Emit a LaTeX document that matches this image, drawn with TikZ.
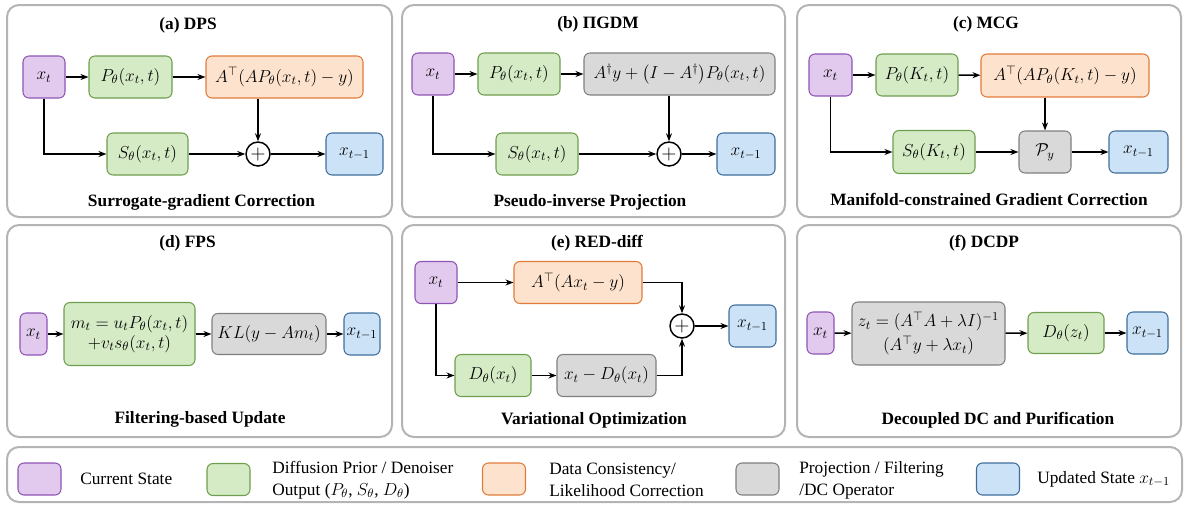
\RequirePackage{fix-cm}
\documentclass[tikz,border=0pt]{standalone}
\usepackage{amsmath}
\usepackage[no-math]{fontspec}
\setmainfont{Liberation Serif}
\usetikzlibrary{arrows.meta}
\definecolor{purF}{HTML}{E2CAEE}\definecolor{purD}{HTML}{8E55B5}
\definecolor{grnF}{HTML}{D4EBC6}\definecolor{grnD}{HTML}{6E9E4E}
\definecolor{orF}{HTML}{FDE3CD}\definecolor{orD}{HTML}{E07B39}
\definecolor{gyF}{HTML}{D9D9D9}\definecolor{gyD}{HTML}{7F7F7F}
\definecolor{blF}{HTML}{CCE2F7}\definecolor{blD}{HTML}{3F6E9C}
\definecolor{frameC}{HTML}{B4B4B4}
\tikzset{
  box/.style={draw, rounded corners=4.5pt, line width=0.8pt, minimum height=31.5pt, inner sep=1.5pt, align=center, font=\fontsize{13}{16}\selectfont},
  pur/.style={box, fill=purF, draw=purD},
  grn/.style={box, fill=grnF, draw=grnD},
  org/.style={box, fill=orF, draw=orD},
  gry/.style={box, fill=gyF, draw=gyD},
  blu/.style={box, fill=blF, draw=blD},
  arr/.style={-{Stealth[length=6pt,width=4.5pt]}, line width=1.1pt},
  sumnode/.style={circle, draw, line width=1.1pt, minimum size=18pt, inner sep=0pt, fill=white, font=\fontsize{15}{15}\selectfont},
  panel/.style={draw=frameC, line width=1.5pt, rounded corners=9pt},
  ttl/.style={font=\bfseries\fontsize{13}{15}\selectfont},
  leg/.style={font=\fontsize{13}{16.5}\selectfont, align=left, anchor=west, inner sep=0pt},
  swatch/.style={minimum width=32.25pt, minimum height=24pt, inner sep=0pt}
}
\begin{document}
\begin{tikzpicture}[x=0.75pt,y=-0.75pt]
\useasboundingbox (0,0) rectangle (1195,504);
% panels
\draw[panel] (7,5) rectangle (392,217);
\draw[panel] (402,5) rectangle (785,217);
\draw[panel] (797,5) rectangle (1181,217);
\draw[panel] (7,225) rectangle (392,437);
\draw[panel] (402,225) rectangle (785,437);
\draw[panel] (797,225) rectangle (1181,437);
\draw[panel] (7,447) rectangle (1182,502);

% (a) DPS
\node[ttl] (ta) at (188,25) {(a) DPS};
\node[ttl] (la) at (201.5,202) {Surrogate-gradient Correction};
\node[pur, minimum width=31.5pt] (a1) at (44,77) {$x_t$};
\node[grn, minimum width=62.25pt] (a2) at (130.5,77) {$P_\theta(x_t,t)$};
\node[org, minimum width=117.75pt] (a3) at (284.5,77) {$A^{\top}(AP_\theta(x_t,t)-y)$};
\node[grn, minimum width=60.75pt] (a4) at (147.5,154) {$S_\theta(x_t,t)$};
\node[sumnode] (a5) at (258,154) {$+$};
\node[blu, minimum width=42.75pt] (a6) at (354.5,154) {$x_{t-1}$};
\draw[arr] (a1) -- (a2);
\draw[arr] (a2) -- (a3);
\draw[arr] (a3.south -| a5) -- (a5.north);
\draw[arr] (a1.south) |- (a4.west);
\draw[arr] (a4) -- (a5);
\draw[arr] (a5) -- (a6);

% (b) PiGDM
\node[ttl] (tb) at (598,24) {(b) ΠGDM};
\node[ttl] (lb) at (590,202) {Pseudo-inverse Projection};
\node[pur, minimum width=31.5pt] (b1) at (433,74) {$x_t$};
\node[grn, minimum width=61.5pt] (b2) at (519,74) {$P_\theta(x_t,t)$};
\node[gry, minimum width=143.25pt] (b3) at (679.5,74) {$A^{\dagger}y+\big(I-A^{\dagger}\big)P_\theta(x_t,t)$};
\node[grn, minimum width=61.5pt] (b4) at (537,154) {$S_\theta(x_t,t)$};
\node[sumnode] (b5) at (669,154) {$+$};
\node[blu, minimum width=43.5pt] (b6) at (746,154) {$x_{t-1}$};
\draw[arr] (b1) -- (b2);
\draw[arr] (b2) -- (b3);
\draw[arr] (b3.south -| b5) -- (b5.north);
\draw[arr] (b1.south) |- (b4.west);
\draw[arr] (b4) -- (b5);
\draw[arr] (b5) -- (b6);

% (c) MCG
\node[ttl] (tc) at (986,24) {(c) MCG};
\node[ttl] (lc) at (989,199) {Manifold-constrained Gradient Correction};
\node[pur, minimum width=32.25pt] (c1) at (830.5,75) {$x_t$};
\node[grn, minimum width=61.5pt] (c2) at (917,75) {$P_\theta(K_t,t)$};
\node[org, minimum width=126pt, minimum height=32.25pt] (c3) at (1065,75.5) {$A^{\top}(AP_\theta(K_t,t)-y)$};
\node[grn, minimum width=61.5pt, minimum height=32.25pt] (c4) at (934,152) {$S_\theta(K_t,t)$};
\node[gry, minimum width=39pt] (c5) at (1045,152) {$\mathcal{P}_y$};
\node[blu, minimum width=44.25pt] (c6) at (1138.5,152) {$x_{t-1}$};
\draw[arr] (c1) -- (c2);
\draw[arr] (c2) -- (c3);
\draw[arr] (c3.south -| c5) -- (c5.north);
\draw[arr] (c1.south) |- (c4.west);
\draw[arr] (c4) -- (c5);
\draw[arr] (c5) -- (c6);

% (d) FPS
\node[ttl] (td) at (187.5,243) {(d) FPS};
\node[ttl] (ld) at (200,419) {Filtering-based Update};
\node[pur, minimum width=20.25pt] (d1) at (33.5,334) {$x_t$};
\node[grn, minimum width=98.25pt, minimum height=47.25pt] (d2) at (129.5,334) {$m_t=u_tP_\theta(x_t,t)$\\[-1pt]$+v_ts_\theta(x_t,t)$};
\node[gry, minimum width=85.5pt, minimum height=30.75pt] (d3) at (269,334) {$KL(y-Am_t)$};
\node[blu, minimum width=27pt] (d4) at (362,334) {$x_{t-1}$};
\draw[arr] (d1) -- (d2);
\draw[arr] (d2) -- (d3);
\draw[arr] (d3) -- (d4);

% (e) RED-diff
\node[ttl] (te) at (597,243) {(e) RED-diff};
\node[ttl] (le) at (594,420) {Variational Optimization};
\node[pur, minimum width=31.5pt] (e1) at (436,282.5) {$x_t$};
\node[org, minimum width=96pt] (e2) at (578,282.5) {$A^{\top}(Ax_t-y)$};
\node[grn, minimum width=57pt] (e3) at (493,375.5) {$D_\theta(x_t)$};
\node[gry, minimum width=74.25pt] (e4) at (606.5,375.5) {$x_t-D_\theta(x_t)$};
\node[sumnode] (e5) at (682,326) {$+$};
\node[blu, minimum width=35.25pt] (e6) at (752.5,326) {$x_{t-1}$};
\draw[arr] (e1) -- (e2);
\draw[arr] (e2.east) -| (e5.north);
\draw[arr] (e1.south) |- (e3.west);
\draw[arr] (e3) -- (e4);
\draw[arr] (e4.east) -| (e5.south);
\draw[arr] (e5) -- (e6);

% (f) DCDP
\node[ttl] (tf) at (984,243) {(f) DCDP};
\node[ttl] (lf) at (998,420) {Decoupled DC and Purification};
\node[pur, minimum width=20.25pt] (f1) at (820.5,333) {$x_t$};
\node[gry, minimum width=114.75pt, minimum height=47.25pt] (f2) at (928.5,333.5) {$z_t=(A^{\top}A+\lambda I)^{-1}$\\[2pt]$(A^{\top}y+\lambda x_t)$};
\node[grn, minimum width=57pt, minimum height=30.75pt] (f3) at (1066,333) {$D_\theta(z_t)$};
\node[blu, minimum width=30.75pt] (f4) at (1147.5,333) {$x_{t-1}$};
\draw[arr] (f1) -- (f2);
\draw[arr] (f2) -- (f3);
\draw[arr] (f3) -- (f4);

% legend
\node[pur, swatch] (s1) at (39.5,479) {};
\node[leg] (t1) at (80,479) {Current State};
\node[grn, swatch] (s2) at (228.5,479.5) {};
\node[leg] (t2) at (272,480) {Diffusion Prior / Denoiser\\Output ($P_\theta$, $S_\theta$, $D_\theta$)};
\node[org, swatch] (s3) at (504,479) {};
\node[leg] (t3) at (549,480) {Data Consistency/\\Likelihood Correction};
\node[gry, swatch] (s4) at (757.5,479) {};
\node[leg] (t4) at (799,480) {Projection / Filtering\\/DC Operator};
\node[blu, swatch] (s5) at (998,479) {};
\node[leg] (t5) at (1037,479) {Updated State $x_{t-1}$};
\end{tikzpicture}
\end{document}
